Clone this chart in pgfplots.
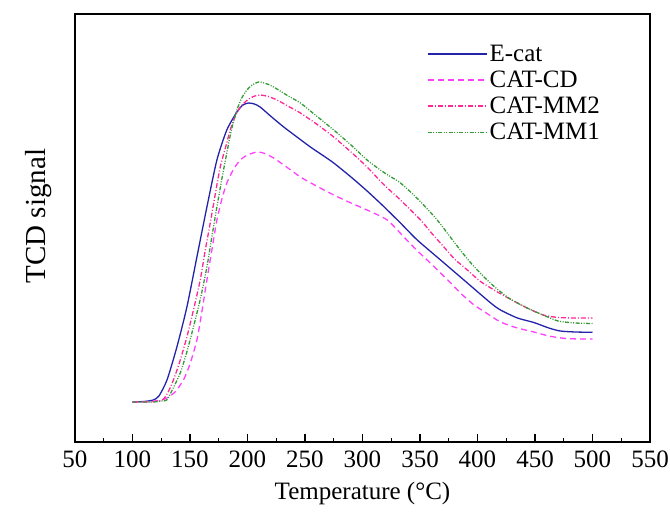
\documentclass[border=0pt]{standalone}
\usepackage{fontspec}
\setmainfont{Liberation Serif}
\usepackage{pgfplots}
\pgfplotsset{compat=1.18}

\definecolor{ecat}{RGB}{35,35,170}
\definecolor{catcd}{RGB}{255,64,255}
\definecolor{mmtwo}{RGB}{255,40,150}
\definecolor{mmone}{RGB}{50,155,50}

\begin{document}
\begin{tikzpicture}
\useasboundingbox (-75pt,-70pt) rectangle (595pt,442pt);
\begin{axis}[
    scale only axis,
    width=575pt, height=428pt,
    xmin=50, xmax=550, ymin=0, ymax=428,
    xtick distance=50, minor x tick num=1,
    ytick=\empty,
    xtick pos=left,
    tick align=inside,
    major tick length=8pt, minor tick length=4.5pt,
    every tick/.style={black, line width=1.2pt},
    axis line style={line width=1.6pt},
    tick label style={font=\fontsize{25}{30}\selectfont},
    xticklabel style={yshift=-5pt},
    /pgf/number format/assume math mode=true,
    xlabel={Temperature (°C)},
    ylabel={TCD signal},
    xlabel style={font=\fontsize{25}{30}\selectfont, yshift=-8pt},
    ylabel style={font=\fontsize{29}{33}\selectfont, yshift=20pt, xshift=12pt},
    legend cell align=left,
    legend image code/.code={\draw[#1, line width=1.5pt] (0pt,0pt) -- (59pt,0pt);},
    legend style={draw=none, fill=none, at={(0.612,0.932)}, anchor=north west,
        font=\fontsize{25}{30}\selectfont, row sep=4pt, inner sep=0pt},
    every axis plot/.append style={line width=1.3pt, smooth, tension=0.4},
]
\addplot[ecat] coordinates {
    (100,40) (110,40.5) (118,42) (123,46) (130,62) (138.6,95) (147.3,135)
    (156,185) (164.7,235) (173.4,282) (182,312) (190.8,330) (196,337)
    (201,339) (206,338) (211,335) (220,326) (231.5,315) (243,305)
    (254.7,295) (265,287) (275,279) (290,265) (304,251) (318,236)
    (333,219) (347.6,202) (367.9,182) (391.2,159) (411.5,139) (420,132)
    (434.7,124) (449,119.5) (462,114) (472,111) (485,110) (500,109.7)
};
\addlegendentry{E-cat}
\addplot[catcd, dash pattern=on 6pt off 4pt] coordinates {
    (100,40) (115,40.5) (125,42) (129.8,44) (137,50) (144.3,62) (150,78)
    (156,102) (160,128) (164.7,162) (169,192) (173.4,222) (178,244)
    (182,259) (188,273) (193.7,282) (200,287) (208.3,290) (215,288.5)
    (222.7,284) (234,275) (246,265) (260,256) (275,247) (290,239)
    (304,232) (321.5,222) (336,205) (347,192) (359,179) (367,170)
    (376.7,159) (387,147) (397,137) (407,129.5) (420,120) (434.7,114)
    (449,110) (462,106) (475,103.7) (488,103) (500,103)
};
\addlegendentry{CAT-CD}
\addplot[mmtwo, dash pattern=on 5pt off 2pt on 1pt off 2pt] coordinates {
    (100,40) (115,40) (126,42) (131,50) (135.6,62) (141,80) (147.3,105)
    (153,132) (158.9,162) (163,190) (167.6,219) (172,248) (176.3,275)
    (181,295) (185,312) (189,325) (193.7,335) (200,342) (205,345.5)
    (211,347) (218,345.5) (225.7,342) (235,336) (246,329) (260,318)
    (275,305) (290,290) (304,275) (318,258) (333,242) (350.5,222)
    (360,209) (370.8,195) (380,183) (391.2,172) (402,161) (414.4,152)
    (425,145) (434.7,139) (445,133) (457,127) (470,124.5) (485,124)
    (500,124)
};
\addlegendentry{CAT-MM2}
\addplot[mmone, dash pattern=on 4pt off 1.5pt on 1pt off 1.5pt on 1pt off 1.5pt] coordinates {
    (100,40) (118,40) (125,41) (129.8,42) (135,53) (141.5,69) (147,89)
    (153,115) (159,143) (164.7,175) (169,205) (173.4,235) (178,265)
    (182,289) (186,312) (190.8,332) (195,344) (199.5,352) (204,357)
    (209.7,360) (216,358.5) (222.7,355) (234,347) (246,339) (260,326)
    (275,312) (290,297) (304,282) (318,270) (333,259) (349,242) (365,222)
    (375,207) (385,192) (395,178) (405.7,165) (415,155) (425.9,145)
    (434.7,139) (445,133) (457,127) (470,121) (485,119) (500,118.5)
};
\addlegendentry{CAT-MM1}
\end{axis}
\end{tikzpicture}
\end{document}
